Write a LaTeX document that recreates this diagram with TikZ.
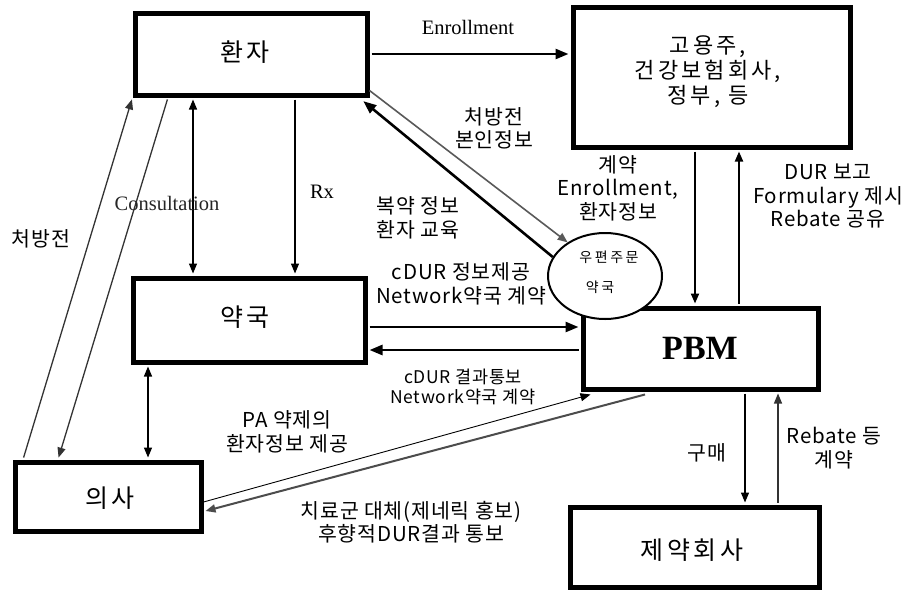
\documentclass[tikz,border=0pt]{standalone}
\usepackage{fontspec}
\newfontfamily\kr{Noto Sans CJK KR}[LetterSpace=4]
\newfontfamily\krbox{Noto Sans CJK KR}[LetterSpace=14]
\newfontfamily\krsm{Noto Sans CJK KR}[LetterSpace=18]
\newfontfamily\tms{Liberation Serif}
\usetikzlibrary{arrows.meta,shapes.geometric}
\begin{document}
\begin{tikzpicture}[x=1pt,y=-1pt,
  box/.style={draw, line width=5pt, inner sep=0pt, fill=white},
  boxtxt/.style={inner sep=0pt, font=\krbox\fontsize{25}{28}\selectfont},
  lbl/.style={align=center, inner sep=0pt, font=\kr\fontsize{20.5}{23.5}\selectfont},
  lblsm/.style={align=center, inner sep=0pt, font=\kr\fontsize{17.5}{20}\selectfont},
  eng/.style={inner sep=0pt, font=\tms\fontsize{20.5}{24}\selectfont},
  tip/.style={-{Triangle[length=10pt,width=8pt]}},
  bigtip/.style={-{Triangle[length=13pt,width=10pt]}},
  dtip/.style={{Triangle[length=10pt,width=8pt]}-{Triangle[length=10pt,width=8pt]}},
  thin/.style={line width=1.3pt, shorten >=2pt, shorten <=2pt},
  mid/.style={line width=2pt, shorten >=2pt, shorten <=2pt},
  thick/.style={line width=2.6pt, shorten >=2pt, shorten <=2pt},
]
\useasboundingbox (0,0) rectangle (912,590);
\fill[white] (0,0) rectangle (912,590);

% boxes
\node[box, minimum width=232pt, minimum height=82pt] (pat) at (251,54) {};
\node[boxtxt] (patt) at (245,52) {환자};
\node[box, minimum width=277pt, minimum height=140pt] (emp) at (711.5,77) {};
\node[align=center, inner sep=0pt, font=\krbox\fontsize{22}{25}\selectfont] (empt) at (708,72) {고용주,\\건강보험회사,\\정부, 등};
\node[box, minimum width=232pt, minimum height=84pt] (pha) at (249,320) {};
\node[boxtxt] (phat) at (245,317) {약국};
\node[box, minimum width=186pt, minimum height=69pt] (doc) at (108,496.5) {};
\node[boxtxt] (doct) at (110,498) {의사};
\node[box, minimum width=235pt, minimum height=81pt] (pbm) at (700.5,348.5) {};
\node[inner sep=0pt, font=\tms\bfseries\fontsize{34}{36}\selectfont] (pbmt) at (700,348) {PBM};
\node[box, minimum width=249pt, minimum height=80pt] (drug) at (694.5,547) {};
\node[boxtxt] (drugt) at (692,550) {제약회사};
\node[draw, ellipse, line width=2pt, fill=white, minimum width=114pt, minimum height=86pt, inner sep=0pt] (mail) at (605,276) {};
\node[inner sep=0pt, font=\krsm\fontsize{14}{16}\selectfont] (mailt1) at (609,257) {우편주문};
\node[inner sep=0pt, font=\krsm\fontsize{14}{16}\selectfont] (mailt2) at (600,287) {약국};

% connectors
\draw[thick, bigtip] (pat.east) -- (emp.west |- pat.east);
\draw[thin, dtip] ([xshift=-58pt]pat.south) -- ([xshift=-56pt]pha.north);
\draw[thin, tip] ([xshift=44pt]pat.south) -- ([xshift=46pt]pha.north);
\draw[thin, black!80, tip] ([xshift=-85pt]doc.north) -- (pat.south west);
\draw[thin, black!80, tip] ([xshift=-83pt]pat.south) -- ([xshift=-50pt]doc.north);
\draw[thin, dtip] ([xshift=-101pt]pha.south) -- ([xshift=40pt]doc.north);
\draw[thick, bigtip] ([yshift=-7pt]pha.east) -- ([yshift=21.5pt]pbm.west);
\draw[thick, bigtip] ([yshift=-1.5pt]pbm.west) -- ([yshift=-30pt]pha.east);
\draw[mid, tip] ([xshift=-16.5pt]emp.south) -- ([xshift=-5.5pt]pbm.north);
\draw[mid, tip] ([xshift=38.5pt]pbm.north) -- ([xshift=27.5pt]emp.south);
\draw[thin, tip] ([xshift=44.5pt]pbm.south) -- ([xshift=50.5pt]drug.north);
\draw[thin, black!80, tip] ([xshift=83.5pt]drug.north) -- ([xshift=77.5pt]pbm.south);
\draw[line width=1.6pt, black!65, tip] ([yshift=7pt]pat.south east) -- (mail.138);
\draw[line width=2.6pt, bigtip, shorten >=1pt] (mail.160) -- ([xshift=-7pt,yshift=-3pt]pat.south east);
\draw[line width=0.9pt, tip] ([yshift=-5.5pt]doc.east) -- ([xshift=10pt,yshift=-3pt]pbm.south west);
\draw[line width=2pt, black!70, tip] ([xshift=-55.5pt,yshift=-3pt]pbm.south) -- ([xshift=2pt,yshift=-14.5pt]doc.east);

% labels
\node[eng] (l1) at (468,27) {Enrollment};
\node[eng] (l2) at (322,192) {Rx};
\node[eng, black!85] (l3) at (167,203) {Consultation};
\node[lbl] (l4) at (41,239) {처방전};
\node[lbl] (l5) at (494,128.5) {처방전\\본인정보};
\node[lbl] (l6) at (418,218) {복약 정보\\환자 교육};
\node[lbl] (l7) at (618,188) {계약\\Enrollment,\\환자정보};
\node[lbl] (l8) at (828,196) {DUR 보고\\Formulary 제시\\Rebate 공유};
\node[lbl] (l9) at (461,284) {cDUR 정보제공\\Network약국 계약};
\node[lblsm] (l10) at (463,387) {cDUR 결과통보\\Network약국 계약};
\node[lbl] (l11) at (287,432) {PA 약제의\\환자정보 제공};
\node[lbl] (l12) at (411,522) {치료군 대체(제네릭 홍보)\\후향적DUR결과 통보};
\node[lbl] (l13) at (707,453) {구매};
\node[lbl] (l14) at (834,448) {Rebate 등\\계약};
\end{tikzpicture}
\end{document}
